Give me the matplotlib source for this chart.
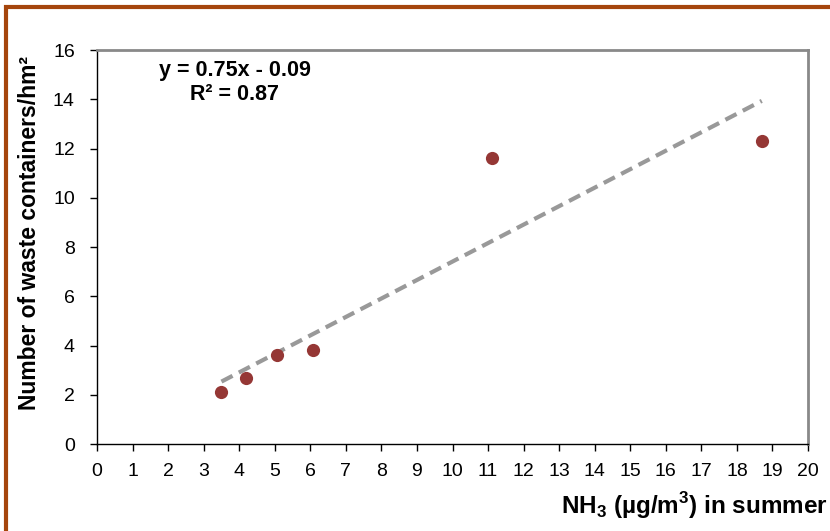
import numpy as np
import matplotlib.pyplot as plt
from matplotlib.patches import Rectangle

# NH3 concentration (summer) vs waste container density
nh3 = [3.5, 4.2, 5.06, 6.08, 11.1, 18.7]
containers = [2.1, 2.68, 3.61, 3.82, 11.6, 12.3]
slope, intercept = 0.75, -0.09
x_ticks = list(range(0, 21))
y_ticks = list(range(0, 17, 2))

plt.rcParams['font.family'] = ['Liberation Sans', 'DejaVu Sans']
plt.rcParams['mathtext.fontset'] = 'custom'
plt.rcParams['mathtext.bf'] = 'Liberation Sans:bold'
plt.rcParams['mathtext.rm'] = 'Liberation Sans'

fig = plt.figure(figsize=(8.3, 5.31), dpi=100)
ax = fig.add_axes([0.1169, 0.1638, 0.9735 - 0.1169, 0.9058 - 0.1638])

# trend line
xs = np.array([min(nh3), max(nh3)])
ax.plot(xs, slope * xs + intercept, color='#999999', lw=3, ls=(0, (3, 1.7)),
        zorder=2)
ax.plot(nh3, containers, 'o', color='#953735', markersize=9.5, zorder=3,
        markeredgewidth=0)

ax.set_xlim(0, 20)
ax.set_ylim(0, 16)
ax.set_xticks(x_ticks)
ax.set_yticks(y_ticks)
ax.tick_params(direction='out', length=5, width=1, labelsize=14, colors='black')
ax.tick_params(axis='x', pad=9)
ax.tick_params(axis='y', pad=11)

for s in ['top', 'right']:
    ax.spines[s].set_color('#898989')
    ax.spines[s].set_linewidth(2)
for s in ['left', 'bottom']:
    ax.spines[s].set_color('black')
    ax.spines[s].set_linewidth(1)

ax.text(0.194, 0.949, 'y = 0.75x - 0.09', transform=ax.transAxes,
        ha='center', va='center', fontsize=15.5, fontweight='bold')
ax.text(0.194, 0.886, 'R² = 0.87', transform=ax.transAxes,
        ha='center', va='center', fontsize=15.5, fontweight='bold')

fig.text(0.036, 0.561, 'Number of waste containers/hm²',
         rotation=90, ha='center', va='center', fontsize=16.5, fontweight='bold')
fig.text(0.997, 0.047, r'NH$_\mathbf{3}$ (µg/m$^\mathbf{3}$) in summer',
         ha='right', va='center', fontsize=17.5, fontweight='bold')

# brown frame
fig.patches.append(Rectangle((0.0078, -0.05), 1.2, 1.05 - 0.0137,
                             transform=fig.transFigure, fill=False,
                             edgecolor='#A5450C', lw=3))

fig.savefig('out.png', dpi=100)
